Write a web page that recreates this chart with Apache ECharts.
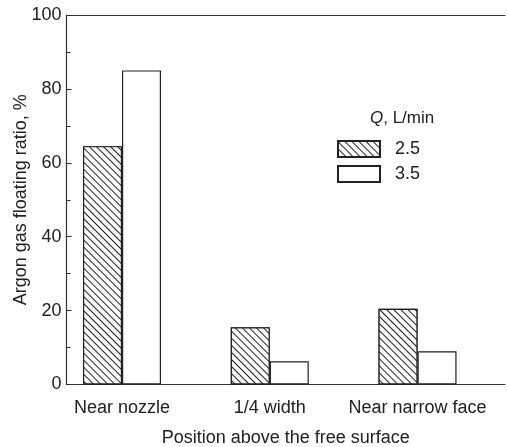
<!DOCTYPE html>
<html><head><meta charset="utf-8">
<script src="https://cdn.jsdelivr.net/npm/echarts@6/dist/echarts.min.js"></script>
<style>html,body{margin:0;padding:0;background:#fff}#c{width:508px;height:447px}</style>
</head><body><div id="c"></div>
<script>
const categories = ['Near nozzle', '1/4 width', 'Near narrow face'];
const seriesNames = ['2.5', '3.5'];
const flow25 = [64.5, 15.5, 20.5];
const flow35 = [85, 6.3, 9];
const yTicks = [0, 20, 40, 60, 80, 100];

const FONT = 'Liberation Sans, Arial, Helvetica, sans-serif';
const INK = '#222';
const chart = echarts.init(document.getElementById('c'), null, {renderer: 'canvas'});
const xMin = -0.3756, xMax = 2.592;
const pos = categories.map((c, i) => i);

chart.setOption({
  animation: false,
  backgroundColor: '#fff',
  textStyle: {fontFamily: FONT, color: INK},
  grid: {left: 66.5, right: 3, top: 15, bottom: 62.5, containLabel: false, outerBoundsMode: 'none'},
  title: {
    text: '{i|Q}, L/min',
    left: 370, top: 110,
    padding: 0,
    textStyle: {fontFamily: FONT, fontSize: 17, fontWeight: 'normal', color: INK,
      rich: {i: {fontStyle: 'italic', fontSize: 17, fontFamily: FONT, color: INK}}}
  },
  legend: {
    orient: 'vertical', left: 337, top: 140, padding: 0,
    itemWidth: 42, itemHeight: 16, itemGap: 7,
    icon: 'rect',
    textStyle: {fontFamily: FONT, fontSize: 18, color: INK, padding: [0, 0, 0, 10]},
    data: seriesNames
  },
  xAxis: [{
    type: 'value', min: xMin, max: xMax,
    name: 'Position above the free surface', nameLocation: 'middle', nameGap: 45,
    nameTextStyle: {fontFamily: FONT, fontSize: 18, color: INK},
    axisLine: {show: true, onZero: false, lineStyle: {color: '#333', width: 1.2}},
    axisTick: {show: false},
    splitLine: {show: false},
    axisLabel: {
      customValues: pos, margin: 15, fontFamily: FONT, fontSize: 18, color: INK,
      formatter: v => categories[Math.round(v)] || ''
    }
  }, {
    type: 'value', min: xMin, max: xMax, position: 'top',
    axisLine: {show: true, onZero: false, lineStyle: {color: '#333', width: 1.2}},
    axisTick: {show: false}, axisLabel: {show: false}, splitLine: {show: false}
  }],
  yAxis: {
    type: 'value', min: 0, max: 100, interval: 20,
    name: 'Argon gas floating ratio, %', nameLocation: 'middle', nameGap: 36,
    nameMoveOverlap: false,
    nameTextStyle: {fontFamily: FONT, fontSize: 18, color: INK},
    axisLine: {show: true, onZero: false, lineStyle: {color: '#333', width: 1.2}},
    axisTick: {show: true, inside: true, length: 5, lineStyle: {color: '#333'}},
    minorTick: {show: true, splitNumber: 2, length: 4, lineStyle: {color: '#333'}},
    splitLine: {show: false},
    axisLabel: {margin: 5, fontFamily: FONT, fontSize: 18, color: INK,
      formatter: v => yTicks.includes(v) ? String(v) : ''}
  },
  series: [{
    name: seriesNames[0], type: 'bar', barWidth: 39, barGap: '0%',
    data: flow25.map((v, i) => [pos[i], v]),
    itemStyle: {
      color: '#fff', borderColor: '#222', borderWidth: 1.2,
      decal: {symbol: 'rect', symbolSize: 1, color: '#222', backgroundColor: '#fff',
        dashArrayX: [1, 0], dashArrayY: [1, 4], rotation: Math.PI / 4}
    }
  }, {
    name: seriesNames[1], type: 'bar', barWidth: 39, barGap: '0%',
    data: flow35.map((v, i) => [pos[i], v]),
    itemStyle: {color: '#fff', borderColor: '#222', borderWidth: 1.2}
  }]
});
</script></body></html>
